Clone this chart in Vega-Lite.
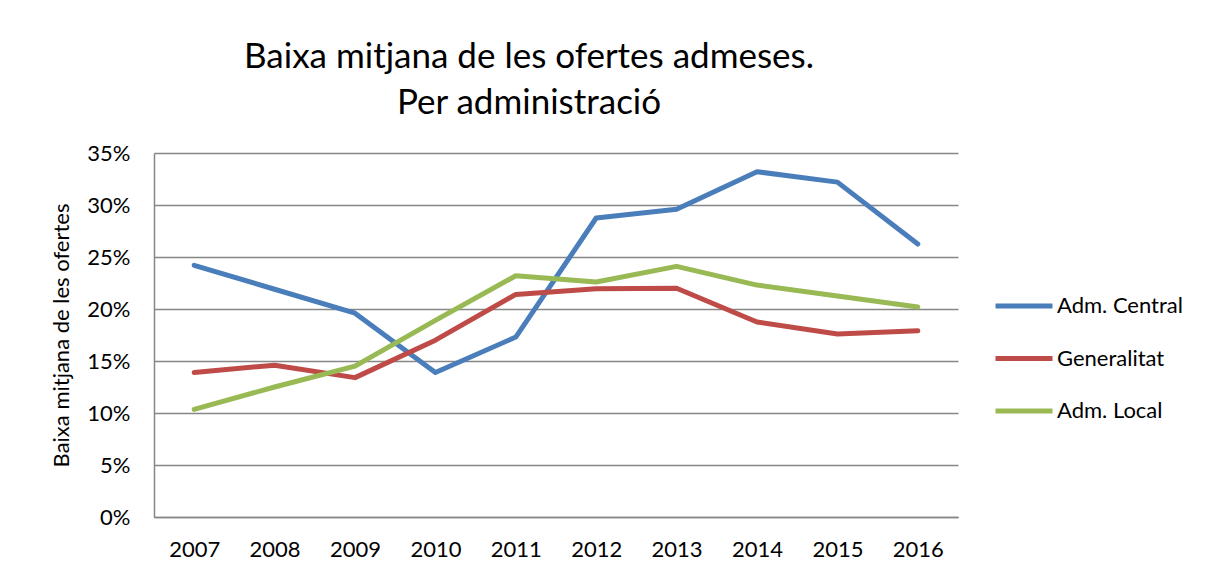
{
  "$schema": "https://vega.github.io/schema/vega-lite/v6.json",
  "width": 804,
  "height": 364,
  "autosize": "none",
  "padding": {"left": 154, "top": 153, "right": 264, "bottom": 61},
  "background": "white",
  "title": {
    "text": ["Baixa mitjana de les ofertes admeses.", "Per administració"],
    "font": "Lato",
    "fontSize": 35,
    "fontWeight": "normal",
    "color": "#000000",
    "lineHeight": 46,
    "anchor": "middle",
    "dx": -27,
    "offset": 21
  },
  "data": {
    "values": [
      {"year": "2007", "serie": "Adm. Central", "value": 0.242},
      {"year": "2008", "serie": "Adm. Central", "value": 0.219},
      {"year": "2009", "serie": "Adm. Central", "value": 0.196},
      {"year": "2010", "serie": "Adm. Central", "value": 0.139},
      {"year": "2011", "serie": "Adm. Central", "value": 0.173},
      {"year": "2012", "serie": "Adm. Central", "value": 0.2875},
      {"year": "2013", "serie": "Adm. Central", "value": 0.296},
      {"year": "2014", "serie": "Adm. Central", "value": 0.332},
      {"year": "2015", "serie": "Adm. Central", "value": 0.322},
      {"year": "2016", "serie": "Adm. Central", "value": 0.2625},
      {"year": "2007", "serie": "Generalitat", "value": 0.139},
      {"year": "2008", "serie": "Generalitat", "value": 0.146},
      {"year": "2009", "serie": "Generalitat", "value": 0.134},
      {"year": "2010", "serie": "Generalitat", "value": 0.170},
      {"year": "2011", "serie": "Generalitat", "value": 0.214},
      {"year": "2012", "serie": "Generalitat", "value": 0.2195},
      {"year": "2013", "serie": "Generalitat", "value": 0.220},
      {"year": "2014", "serie": "Generalitat", "value": 0.1875},
      {"year": "2015", "serie": "Generalitat", "value": 0.176},
      {"year": "2016", "serie": "Generalitat", "value": 0.179},
      {"year": "2007", "serie": "Adm. Local", "value": 0.1035},
      {"year": "2008", "serie": "Adm. Local", "value": 0.125},
      {"year": "2009", "serie": "Adm. Local", "value": 0.145},
      {"year": "2010", "serie": "Adm. Local", "value": 0.189},
      {"year": "2011", "serie": "Adm. Local", "value": 0.232},
      {"year": "2012", "serie": "Adm. Local", "value": 0.226},
      {"year": "2013", "serie": "Adm. Local", "value": 0.241},
      {"year": "2014", "serie": "Adm. Local", "value": 0.223},
      {"year": "2015", "serie": "Adm. Local", "value": 0.2125},
      {"year": "2016", "serie": "Adm. Local", "value": 0.202}
    ]
  },
  "mark": {"type": "line", "strokeWidth": 5, "strokeCap": "round", "strokeJoin": "round"},
  "encoding": {
    "x": {
      "field": "year",
      "type": "ordinal",
      "scale": {"type": "point", "padding": 0.5},
      "axis": {
        "title": null,
        "labelAngle": 0,
        "ticks": false,
        "labelPadding": 22,
        "labelFont": "Lato",
        "labelFontSize": 22,
        "labelColor": "#000000",
        "domainColor": "#868686",
        "domainWidth": 1.5,
        "grid": false
      }
    },
    "y": {
      "field": "value",
      "type": "quantitative",
      "scale": {"domain": [0, 0.35], "nice": false},
      "axis": {
        "title": "Baixa mitjana de les ofertes",
        "titleFont": "Lato",
        "titleFontSize": 22,
        "titleFontWeight": "normal",
        "titleColor": "#000000",
        "titlePadding": 13,
        "format": ".0%",
        "values": [0, 0.05, 0.1, 0.15, 0.2, 0.25, 0.3, 0.35],
        "ticks": false,
        "labelPadding": 24,
        "labelFont": "Lato",
        "labelFontSize": 22,
        "labelColor": "#000000",
        "domainColor": "#868686",
        "domainWidth": 1.5,
        "grid": true,
        "gridColor": "#868686",
        "gridWidth": 1.5
      }
    },
    "color": {
      "field": "serie",
      "type": "nominal",
      "sort": ["Adm. Central", "Generalitat", "Adm. Local"],
      "scale": {
        "domain": ["Adm. Central", "Generalitat", "Adm. Local"],
        "range": ["#4A7EBB", "#BE4B48", "#98B954"]
      },
      "legend": {
        "title": null,
        "orient": "none",
        "legendX": 839,
        "legendY": 122,
        "padding": 0,
        "symbolType": "stroke",
        "symbolSize": 3249,
        "symbolStrokeWidth": 5,
        "rowPadding": 10.5,
        "labelOffset": 2,
        "labelFont": "Lato",
        "labelFontSize": 22,
        "labelColor": "#000000"
      }
    }
  },
  "config": {
    "view": {"stroke": null}
  }
}
